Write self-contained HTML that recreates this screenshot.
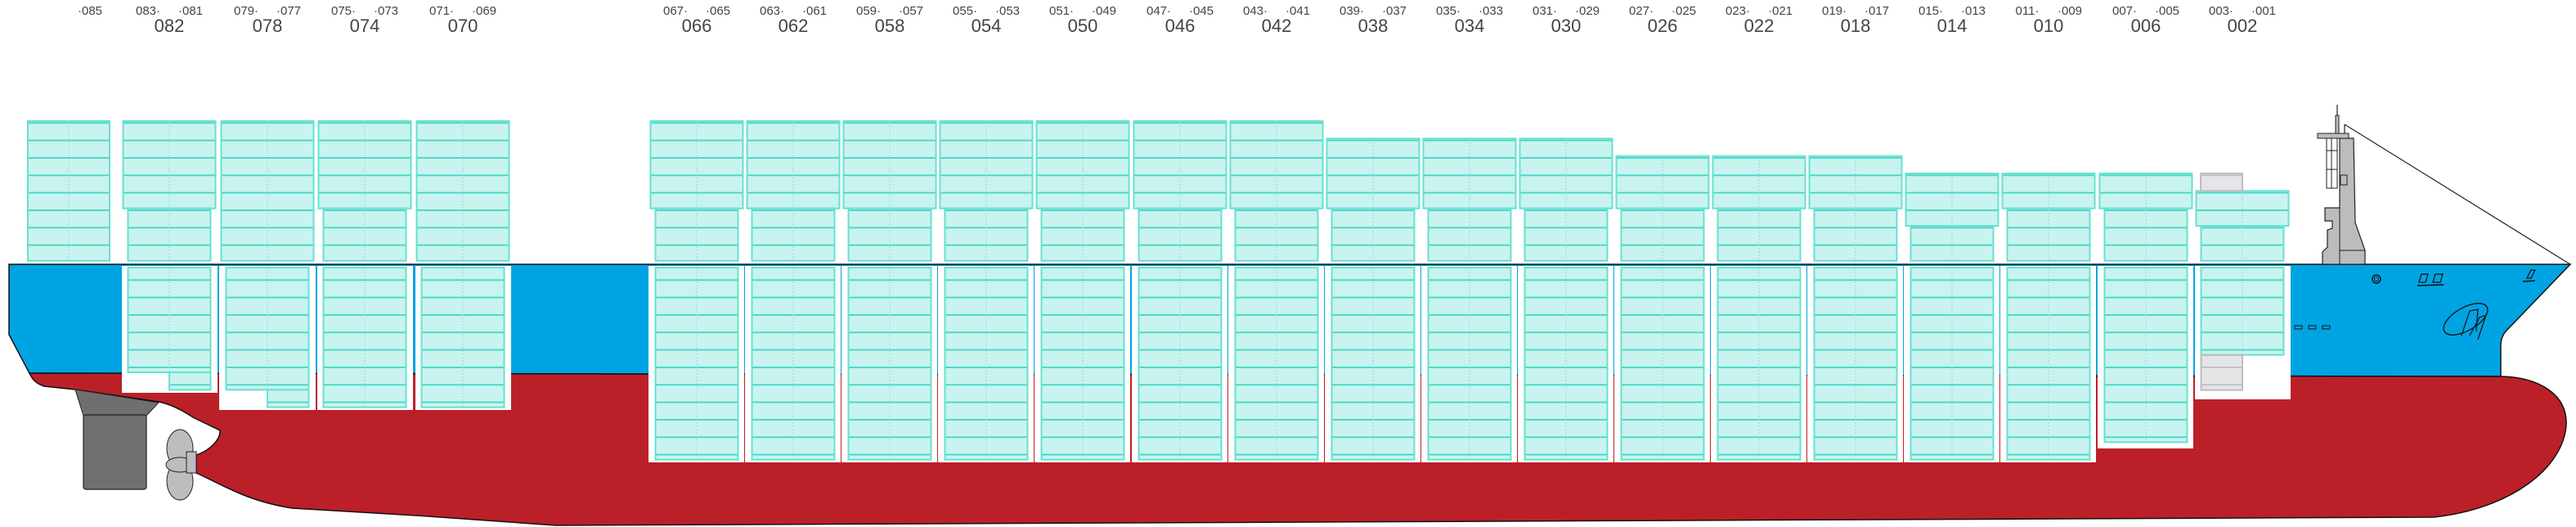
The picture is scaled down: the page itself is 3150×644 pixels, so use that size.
<!DOCTYPE html>
<html><head><meta charset="utf-8"><style>
html,body{margin:0;padding:0;background:#fff;}
svg{display:block;}
text{font-family:"Liberation Sans Narrow","Liberation Sans",sans-serif;fill:#444;text-anchor:middle;}
.s{font-size:15px;}
.b{font-size:22px;}
</style></head><body>
<svg width="3150" height="644" viewBox="0 0 3150 644" xmlns="http://www.w3.org/2000/svg">
<defs>
<pattern id="t" width="20" height="21.333" patternUnits="userSpaceOnUse"><rect width="20" height="21.333" fill="#c9f3ee"/><rect width="20" height="1.8" fill="#3fd7c5"/></pattern>
<pattern id="g" width="20" height="21.333" patternUnits="userSpaceOnUse"><rect width="20" height="21.333" fill="#e5e4e7"/><rect width="20" height="1.8" fill="#bdbcc0"/></pattern>
</defs>

<!-- hull blue -->
<path d="M11,323 L3143,323 L3064,405 Q3058,412 3058,422 L3058,460 L36,456 L11,409 Z" fill="#00a4e2" stroke="#111" stroke-width="1.5"/>
<!-- hull red -->
<path d="M36,456 L3058,460 C3105,461 3140,482 3138,520 C3134,572 3070,622 2976,632 L680,642 L510,630 L357,621 C300,612 272,592 240,578 L240,556 C258,550 270,536 269,526 L236,510 C218,498 204,493 194,491 L92,476 L54,472 C42,468 39,462 36,456 Z" fill="#bb2029" stroke="#111" stroke-width="1.5"/>
<!-- rudder -->
<path d="M92,476 L194,492 L179,508 L102,508 Z" fill="#6f6f6f" stroke="#222" stroke-width="1"/>
<rect x="102" y="507" width="77" height="91" rx="3" fill="#707070" stroke="#222" stroke-width="1.2"/>
<!-- propeller -->
<ellipse cx="220" cy="548" rx="16" ry="23" fill="#bdbdbd" stroke="#222"/>
<ellipse cx="220" cy="588" rx="16" ry="23" fill="#bdbdbd" stroke="#222"/>
<ellipse cx="220" cy="568" rx="17" ry="9" fill="#bdbdbd" stroke="#222"/>
<rect x="228" y="552" width="12" height="26" fill="#bdbdbd" stroke="#222"/>

<!-- openings -->
<g fill="#fff">
<rect x="149" y="325" width="117" height="155"/>
<rect x="268" y="325" width="118" height="176"/>
<rect x="388" y="325" width="117" height="176"/>
<rect x="508" y="325" width="117" height="176"/>
<rect x="793" y="325" width="117" height="240"/>
<rect x="911" y="325" width="117" height="240"/>
<rect x="1029" y="325" width="117" height="240"/>
<rect x="1147" y="325" width="117" height="240"/>
<rect x="1265" y="325" width="117" height="240"/>
<rect x="1384" y="325" width="117" height="240"/>
<rect x="1502" y="325" width="117" height="240"/>
<rect x="1620" y="325" width="117" height="240"/>
<rect x="1738" y="325" width="117" height="240"/>
<rect x="1856" y="325" width="117" height="240"/>
<rect x="1974" y="325" width="117" height="240"/>
<rect x="2092" y="325" width="117" height="240"/>
<rect x="2210" y="325" width="117" height="240"/>
<rect x="2328" y="325" width="117" height="240"/>
<rect x="2446" y="325" width="117" height="240"/>
<rect x="2565" y="325" width="117" height="223"/>
<rect x="2684" y="325" width="117" height="163"/>
</g>

<!-- containers -->
<g stroke="#66e1d2" stroke-width="2" fill="url(#t)">
<!-- 085 -->
<rect x="34" y="148" width="100" height="170.67"/>
<!-- 082 -->
<rect x="150.5" y="148" width="113" height="106.67"/>
<rect x="156.5" y="254.67" width="101" height="64"/>
<rect x="156.5" y="327" width="101" height="128"/>
<rect x="207" y="455" width="50.5" height="21.33"/>
<!-- 078 -->
<rect x="270.5" y="148" width="113" height="170.67"/>
<rect x="276.5" y="327" width="101" height="149.33"/>
<rect x="327" y="476.33" width="50.5" height="21.33"/>
<!-- 074 -->
<rect x="389.5" y="148" width="113" height="106.67"/>
<rect x="395.5" y="254.67" width="101" height="64"/>
<rect x="395.5" y="327" width="101" height="170.67"/>
<!-- 070 -->
<rect x="509.5" y="148" width="113" height="170.67"/>
<rect x="515.5" y="327" width="101" height="170.67"/>
<!-- 066-042 -->
<rect x="795.5" y="148" width="113" height="106.67"/><rect x="801.5" y="254.67" width="101" height="64"/><rect x="801.5" y="327" width="101" height="234.67"/>
<rect x="913.5" y="148" width="113" height="106.67"/><rect x="919.5" y="254.67" width="101" height="64"/><rect x="919.5" y="327" width="101" height="234.67"/>
<rect x="1031.5" y="148" width="113" height="106.67"/><rect x="1037.5" y="254.67" width="101" height="64"/><rect x="1037.5" y="327" width="101" height="234.67"/>
<rect x="1149.5" y="148" width="113" height="106.67"/><rect x="1155.5" y="254.67" width="101" height="64"/><rect x="1155.5" y="327" width="101" height="234.67"/>
<rect x="1267.5" y="148" width="113" height="106.67"/><rect x="1273.5" y="254.67" width="101" height="64"/><rect x="1273.5" y="327" width="101" height="234.67"/>
<rect x="1386.5" y="148" width="113" height="106.67"/><rect x="1392.5" y="254.67" width="101" height="64"/><rect x="1392.5" y="327" width="101" height="234.67"/>
<rect x="1504.5" y="148" width="113" height="106.67"/><rect x="1510.5" y="254.67" width="101" height="64"/><rect x="1510.5" y="327" width="101" height="234.67"/>
<!-- 038-030 -->
<rect x="1622.5" y="169.33" width="113" height="85.33"/><rect x="1628.5" y="254.67" width="101" height="64"/><rect x="1628.5" y="327" width="101" height="234.67"/>
<rect x="1740.5" y="169.33" width="113" height="85.33"/><rect x="1746.5" y="254.67" width="101" height="64"/><rect x="1746.5" y="327" width="101" height="234.67"/>
<rect x="1858.5" y="169.33" width="113" height="85.33"/><rect x="1864.5" y="254.67" width="101" height="64"/><rect x="1864.5" y="327" width="101" height="234.67"/>
<!-- 026-018 -->
<rect x="1976.5" y="190.67" width="113" height="64"/><rect x="1982.5" y="254.67" width="101" height="64"/><rect x="1982.5" y="327" width="101" height="234.67"/>
<rect x="2094.5" y="190.67" width="113" height="64"/><rect x="2100.5" y="254.67" width="101" height="64"/><rect x="2100.5" y="327" width="101" height="234.67"/>
<rect x="2212.5" y="190.67" width="113" height="64"/><rect x="2218.5" y="254.67" width="101" height="64"/><rect x="2218.5" y="327" width="101" height="234.67"/>
<!-- 014 -->
<rect x="2330.5" y="212" width="113" height="64"/><rect x="2336.5" y="276" width="101" height="42.67"/><rect x="2336.5" y="327" width="101" height="234.67"/>
<!-- 010 -->
<rect x="2448.5" y="212" width="113" height="42.67"/><rect x="2454.5" y="254.67" width="101" height="64"/><rect x="2454.5" y="327" width="101" height="234.67"/>
<!-- 006 -->
<rect x="2567.5" y="212" width="113" height="42.67"/><rect x="2573.5" y="254.67" width="101" height="64"/><rect x="2573.5" y="327" width="101" height="213.33"/>
<!-- 002 -->
<rect x="2685.5" y="233.33" width="113" height="42.67"/><rect x="2691.5" y="276" width="101" height="42.67"/><rect x="2691.5" y="327" width="101" height="106.67"/>
</g>
<g stroke="#bdbcc0" stroke-width="2" fill="url(#g)">
<rect x="2691" y="212" width="51" height="21.33"/>
<rect x="2691.5" y="434" width="50.5" height="42.67"/>
</g>
<!-- center dashed lines -->
<g stroke="#7fe6d8" stroke-width="1" stroke-dasharray="2 2">
<path d="M84,149V318M207,149V318M207,328V475M327,149V318M327,328V497M446,149V318M446,328V497M566,149V318M566,328V497
M852,149V318M852,328V561M970,149V318M970,328V561M1088,149V318M1088,328V561M1206,149V318M1206,328V561M1324,149V318M1324,328V561M1443,149V318M1443,328V561M1561,149V318M1561,328V561
M1679,170V318M1679,328V561M1797,170V318M1797,328V561M1915,170V318M1915,328V561M2033,191V318M2033,328V561M2151,191V318M2151,328V561M2269,191V318M2269,328V561
M2387,212V318M2387,328V561M2505,212V318M2505,328V561M2624,212V318M2624,328V540M2742,234V318M2742,328V433"/>
</g>

<!-- forward mast structure -->
<line x1="2867" y1="152" x2="3143" y2="323" stroke="#222" stroke-width="1.2"/>
<line x1="2867" y1="152" x2="2867" y2="163" stroke="#222" stroke-width="1.2"/>
<line x1="2858" y1="128" x2="2858" y2="141" stroke="#222" stroke-width="1.2"/>
<rect x="2856" y="141" width="4" height="22" fill="#bcbcbc" stroke="#222"/>
<path d="M2861,169 L2878,169 L2880,272 L2892,306 L2892,323 L2840,323 L2840,308 L2846,302 L2846,281 L2852,279 L2852,270 L2843,270 L2843,254 L2861,254 Z" fill="#bcbcbc" stroke="#222" stroke-width="1.2"/>
<line x1="2861" y1="254" x2="2861" y2="323" stroke="#222"/>
<line x1="2861" y1="306" x2="2892" y2="306" stroke="#222"/>
<rect x="2834" y="163" width="38" height="6" fill="#bcbcbc" stroke="#222"/>
<rect x="2845" y="169" width="13" height="61" fill="#fff" stroke="#222"/>
<line x1="2851" y1="169" x2="2851" y2="230" stroke="#222"/>
<line x1="2845" y1="184" x2="2858" y2="184" stroke="#222"/>
<line x1="2845" y1="207" x2="2858" y2="207" stroke="#222"/>
<rect x="2862" y="214" width="8" height="12" fill="#bcbcbc" stroke="#222"/>
<!-- bow details -->
<circle cx="2906" cy="341" r="5" fill="none" stroke="#111" stroke-width="1.5"/>
<circle cx="2906" cy="341" r="2.5" fill="none" stroke="#111" stroke-width="1"/>
<path d="M2958,345 L2961,335 L2969,335 L2966,345 Z M2975,345 L2978,335 L2987,335 L2984,345 Z" fill="none" stroke="#111" stroke-width="1.3"/>
<line x1="2956" y1="349" x2="2988" y2="348" stroke="#111" stroke-width="1.5"/>
<path d="M3090,340 L3095,330 L3100,330 L3095,340 Z" fill="none" stroke="#111" stroke-width="1.2"/>
<line x1="3085" y1="344" x2="3100" y2="343" stroke="#111" stroke-width="1.5"/>
<ellipse cx="3015" cy="390" rx="30" ry="14" transform="rotate(-30 3015 390)" fill="none" stroke="#111" stroke-width="1.3"/>
<path d="M3010,410 L3020,380 L3030,378 L3028,405 M3020,410 L3032,388 L3040,385 L3030,415" fill="none" stroke="#111" stroke-width="1.2"/>
<g fill="none" stroke="#111" stroke-width="1"><rect x="2806" y="398" width="9" height="4"/><rect x="2823" y="398" width="9" height="4"/><rect x="2840" y="398" width="9" height="4"/></g>

<!-- labels -->
<text class="s" x="110" y="18">·085</text>
<text class="s" x="181" y="18">083·</text><text class="s" x="233" y="18">·081</text><text class="b" x="207" y="39">082</text>
<text class="s" x="301" y="18">079·</text><text class="s" x="353" y="18">·077</text><text class="b" x="327" y="39">078</text>
<text class="s" x="420" y="18">075·</text><text class="s" x="472" y="18">·073</text><text class="b" x="446" y="39">074</text>
<text class="s" x="540" y="18">071·</text><text class="s" x="592" y="18">·069</text><text class="b" x="566" y="39">070</text>
<text class="s" x="826" y="18">067·</text><text class="s" x="878" y="18">·065</text><text class="b" x="852" y="39">066</text>
<text class="s" x="944" y="18">063·</text><text class="s" x="996" y="18">·061</text><text class="b" x="970" y="39">062</text>
<text class="s" x="1062" y="18">059·</text><text class="s" x="1114" y="18">·057</text><text class="b" x="1088" y="39">058</text>
<text class="s" x="1180" y="18">055·</text><text class="s" x="1232" y="18">·053</text><text class="b" x="1206" y="39">054</text>
<text class="s" x="1298" y="18">051·</text><text class="s" x="1350" y="18">·049</text><text class="b" x="1324" y="39">050</text>
<text class="s" x="1417" y="18">047·</text><text class="s" x="1469" y="18">·045</text><text class="b" x="1443" y="39">046</text>
<text class="s" x="1535" y="18">043·</text><text class="s" x="1587" y="18">·041</text><text class="b" x="1561" y="39">042</text>
<text class="s" x="1653" y="18">039·</text><text class="s" x="1705" y="18">·037</text><text class="b" x="1679" y="39">038</text>
<text class="s" x="1771" y="18">035·</text><text class="s" x="1823" y="18">·033</text><text class="b" x="1797" y="39">034</text>
<text class="s" x="1889" y="18">031·</text><text class="s" x="1941" y="18">·029</text><text class="b" x="1915" y="39">030</text>
<text class="s" x="2007" y="18">027·</text><text class="s" x="2059" y="18">·025</text><text class="b" x="2033" y="39">026</text>
<text class="s" x="2125" y="18">023·</text><text class="s" x="2177" y="18">·021</text><text class="b" x="2151" y="39">022</text>
<text class="s" x="2243" y="18">019·</text><text class="s" x="2295" y="18">·017</text><text class="b" x="2269" y="39">018</text>
<text class="s" x="2361" y="18">015·</text><text class="s" x="2413" y="18">·013</text><text class="b" x="2387" y="39">014</text>
<text class="s" x="2479" y="18">011·</text><text class="s" x="2531" y="18">·009</text><text class="b" x="2505" y="39">010</text>
<text class="s" x="2598" y="18">007·</text><text class="s" x="2650" y="18">·005</text><text class="b" x="2624" y="39">006</text>
<text class="s" x="2716" y="18">003·</text><text class="s" x="2768" y="18">·001</text><text class="b" x="2742" y="39">002</text>
</svg>
</body></html>
